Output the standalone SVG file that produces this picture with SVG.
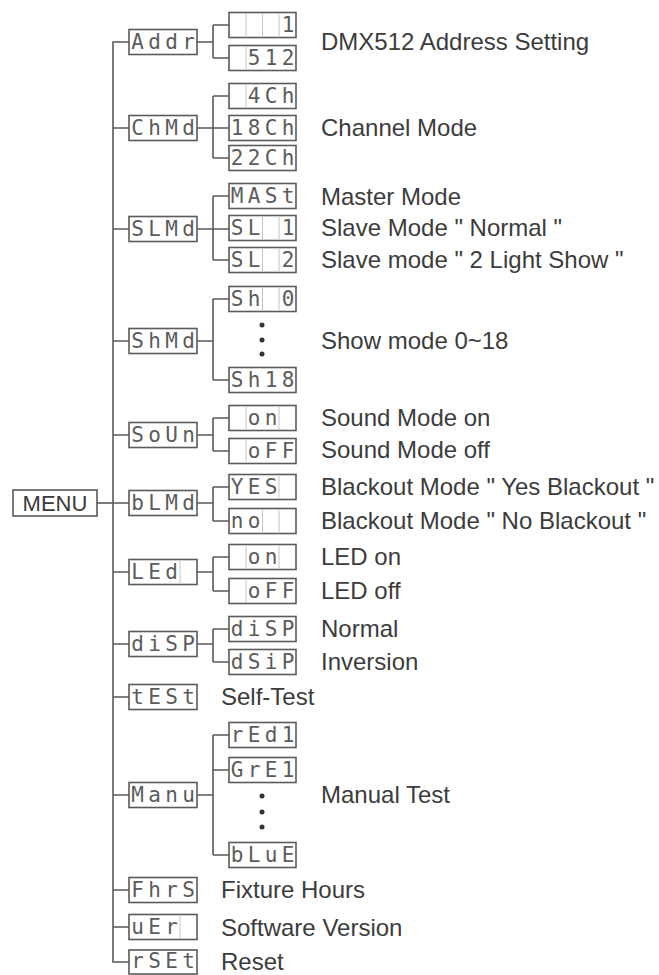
<svg xmlns="http://www.w3.org/2000/svg" width="659" height="975" viewBox="0 0 659 975">
<style>
.bx{fill:#fff;stroke:#5a5a5a;stroke-width:1.6}
.dv{stroke:#c4c4c4;stroke-width:1}
.seg{font-family:"DejaVu Sans Mono",monospace;font-size:21px;fill:#5c5c5c;text-anchor:middle}
.lb{font-family:"Liberation Sans",Arial,sans-serif;font-size:24px;fill:#3c3c3c}
.mn{font-family:"Liberation Sans",Arial,sans-serif;font-size:22px;fill:#3a3a3a}
.ln{fill:none;stroke:#5a5a5a;stroke-width:1.6}
.dot{fill:#333}
</style>
<rect width="659" height="975" fill="#fff"/>
<g id="connectors" class="ln">
<path d="M97,503 H113"/>
<path d="M129,42 H113 V962 H129"/>
<path d="M113,128 H129 M113,229 H129 M113,341 H129 M113,435 H129 M113,503 H129 M113,572 H129 M113,644 H129 M113,697 H129 M113,795 H129 M113,890 H129 M113,927 H129"/>
<path d="M197,42 H213 M213,25 V58 M213,25 H229 M213,58 H229"/>
<path d="M197,128 H229 M213,96 V158 M213,96 H229 M213,158 H229"/>
<path d="M197,229 H229 M213,196 V260 M213,196 H229 M213,260 H229"/>
<path d="M197,341 H213 M213,299 V380 M213,299 H229 M213,380 H229"/>
<path d="M197,435 H213 M213,418 V451 M213,418 H229 M213,451 H229"/>
<path d="M197,503 H213 M213,487 V521 M213,487 H229 M213,521 H229"/>
<path d="M197,572 H213 M213,557 V591 M213,557 H229 M213,591 H229"/>
<path d="M197,644 H213 M213,629 V662 M213,629 H229 M213,662 H229"/>
<path d="M197,795 H213 M213,735 V855 M213,735 H229 M213,770 H229 M213,855 H229"/>
</g>
<g id="menu"><rect class="bx" x="13" y="490" width="84" height="26"/><text class="mn" x="55" y="511" text-anchor="middle">MENU</text></g>

<g id="addr"><rect class="bx" x="129" y="29.5" width="68" height="25"/><text class="seg" x="137.5 154.5 171.5 188.5" y="49">Addr</text></g>
<g id="addr-1"><rect class="bx" x="229" y="12.5" width="67" height="25"/><path class="dv" d="M246,14 V36 M262.5,14 V36 M279,14 V36"/><text class="seg" x="288" y="32">1</text></g>
<g id="addr-512"><rect class="bx" x="229" y="45.5" width="67" height="25"/><path class="dv" d="M246,47 V69"/><text class="seg" x="254 271 288" y="65">512</text></g>
<text class="lb" x="321" y="50">DMX512 Address Setting</text>

<g id="chmd"><rect class="bx" x="129" y="115.5" width="68" height="25"/><text class="seg" x="137.5 154.5 171.5 188.5" y="135">ChMd</text></g>
<g id="ch-4"><rect class="bx" x="229" y="83.5" width="67" height="25"/><path class="dv" d="M246,85 V107"/><text class="seg" x="254 271 288" y="103">4Ch</text></g>
<g id="ch-18"><rect class="bx" x="229" y="115.5" width="67" height="25"/><text class="seg" x="237 254 271 288" y="135">18Ch</text></g>
<g id="ch-22"><rect class="bx" x="229" y="145.5" width="67" height="25"/><text class="seg" x="237 254 271 288" y="165">22Ch</text></g>
<text class="lb" x="321" y="136">Channel Mode</text>

<g id="slmd"><rect class="bx" x="129" y="216.5" width="68" height="25"/><text class="seg" x="137.5 154.5 171.5 188.5" y="236">SLMd</text></g>
<g id="sl-mast"><rect class="bx" x="229" y="183.5" width="67" height="25"/><text class="seg" x="237 254 271 288" y="203">MASt</text></g>
<g id="sl-1"><rect class="bx" x="229" y="215.5" width="67" height="25"/><path class="dv" d="M262.5,217 V239 M279,217 V239"/><text class="seg" x="237 254 288" y="235">SL1</text></g>
<g id="sl-2"><rect class="bx" x="229" y="247.5" width="67" height="25"/><path class="dv" d="M262.5,249 V271 M279,249 V271"/><text class="seg" x="237 254 288" y="267">SL2</text></g>
<text class="lb" x="321" y="205">Master Mode</text>
<text class="lb" x="321" y="236">Slave Mode " Normal "</text>
<text class="lb" x="321" y="268">Slave mode " 2 Light Show "</text>

<g id="shmd"><rect class="bx" x="129" y="328.5" width="68" height="25"/><text class="seg" x="137.5 154.5 171.5 188.5" y="348">ShMd</text></g>
<g id="sh-0"><rect class="bx" x="229" y="286.5" width="67" height="25"/><path class="dv" d="M262.5,288 V310 M279,288 V310"/><text class="seg" x="237 254 288" y="306">Sh0</text></g>
<g id="sh-18"><rect class="bx" x="229" y="367.5" width="67" height="25"/><text class="seg" x="237 254 271 288" y="387">Sh18</text></g>
<circle class="dot" cx="262" cy="325" r="2.5"/><circle class="dot" cx="262" cy="340" r="2.5"/><circle class="dot" cx="262" cy="354" r="2.5"/>
<text class="lb" x="321" y="349">Show mode 0~18</text>

<g id="soun"><rect class="bx" x="129" y="422.5" width="68" height="25"/><text class="seg" x="137.5 154.5 171.5 188.5" y="442">SoUn</text></g>
<g id="so-on"><rect class="bx" x="229" y="405.5" width="67" height="25"/><path class="dv" d="M246,407 V429 M279,407 V429"/><text class="seg" x="254 271" y="425">on</text></g>
<g id="so-off"><rect class="bx" x="229" y="438.5" width="67" height="25"/><path class="dv" d="M246,440 V462"/><text class="seg" x="254 271 288" y="458">oFF</text></g>
<text class="lb" x="321" y="426">Sound Mode on</text>
<text class="lb" x="321" y="458">Sound Mode off</text>

<g id="blmd"><rect class="bx" x="129" y="490.5" width="68" height="25"/><text class="seg" x="137.5 154.5 171.5 188.5" y="510">bLMd</text></g>
<g id="bl-yes"><rect class="bx" x="229" y="474.5" width="67" height="25"/><path class="dv" d="M279,476 V498"/><text class="seg" x="237 254 271" y="494">YES</text></g>
<g id="bl-no"><rect class="bx" x="229" y="508.5" width="67" height="25"/><path class="dv" d="M262.5,510 V532 M279,510 V532"/><text class="seg" x="237 254" y="528">no</text></g>
<text class="lb" x="321" y="495">Blackout Mode " Yes Blackout "</text>
<text class="lb" x="321" y="529">Blackout Mode " No Blackout "</text>

<g id="led"><rect class="bx" x="129" y="559.5" width="68" height="25"/><path class="dv" d="M180,561 V583"/><text class="seg" x="137.5 154.5 171.5" y="579">LEd</text></g>
<g id="led-on"><rect class="bx" x="229" y="544.5" width="67" height="25"/><path class="dv" d="M246,546 V568 M279,546 V568"/><text class="seg" x="254 271" y="564">on</text></g>
<g id="led-off"><rect class="bx" x="229" y="578.5" width="67" height="25"/><path class="dv" d="M246,580 V602"/><text class="seg" x="254 271 288" y="598">oFF</text></g>
<text class="lb" x="321" y="565">LED on</text>
<text class="lb" x="321" y="599">LED off</text>

<g id="disp"><rect class="bx" x="129" y="631.5" width="68" height="25"/><text class="seg" x="137.5 154.5 171.5 188.5" y="651">diSP</text></g>
<g id="disp-normal"><rect class="bx" x="229" y="616.5" width="67" height="25"/><text class="seg" x="237 254 271 288" y="636">diSP</text></g>
<g id="disp-inv"><rect class="bx" x="229" y="649.5" width="67" height="25"/><text class="seg" x="237 254 271 288" y="669">dSiP</text></g>
<text class="lb" x="321" y="637">Normal</text>
<text class="lb" x="321" y="670">Inversion</text>

<g id="test"><rect class="bx" x="129" y="684.5" width="68" height="25"/><text class="seg" x="137.5 154.5 171.5 188.5" y="704">tESt</text></g>
<text class="lb" x="221" y="705">Self-Test</text>

<g id="manu"><rect class="bx" x="129" y="782.5" width="68" height="25"/><text class="seg" x="137.5 154.5 171.5 188.5" y="802">Manu</text></g>
<g id="m-red"><rect class="bx" x="229" y="722.5" width="67" height="25"/><text class="seg" x="237 254 271 288" y="742">rEd1</text></g>
<g id="m-green"><rect class="bx" x="229" y="757.5" width="67" height="25"/><text class="seg" x="237 254 271 288" y="777">GrE1</text></g>
<g id="m-blue"><rect class="bx" x="229" y="842.5" width="67" height="25"/><text class="seg" x="237 254 271 288" y="862">bLuE</text></g>
<circle class="dot" cx="262" cy="796" r="2.5"/><circle class="dot" cx="262" cy="812" r="2.5"/><circle class="dot" cx="262" cy="827" r="2.5"/>
<text class="lb" x="321" y="803">Manual Test</text>

<g id="fhrs"><rect class="bx" x="129" y="877.5" width="68" height="25"/><text class="seg" x="137.5 154.5 171.5 188.5" y="897">FhrS</text></g>
<text class="lb" x="221" y="898">Fixture Hours</text>

<g id="ver"><rect class="bx" x="129" y="914.5" width="68" height="25"/><path class="dv" d="M180,916 V938"/><text class="seg" x="137.5 154.5 171.5" y="934">uEr</text></g>
<text class="lb" x="221" y="936">Software Version</text>

<g id="rset"><rect class="bx" x="129" y="950" width="68" height="24"/><text class="seg" x="137.5 154.5 171.5 188.5" y="968">rSEt</text></g>
<text class="lb" x="221" y="970">Reset</text>
</svg>
